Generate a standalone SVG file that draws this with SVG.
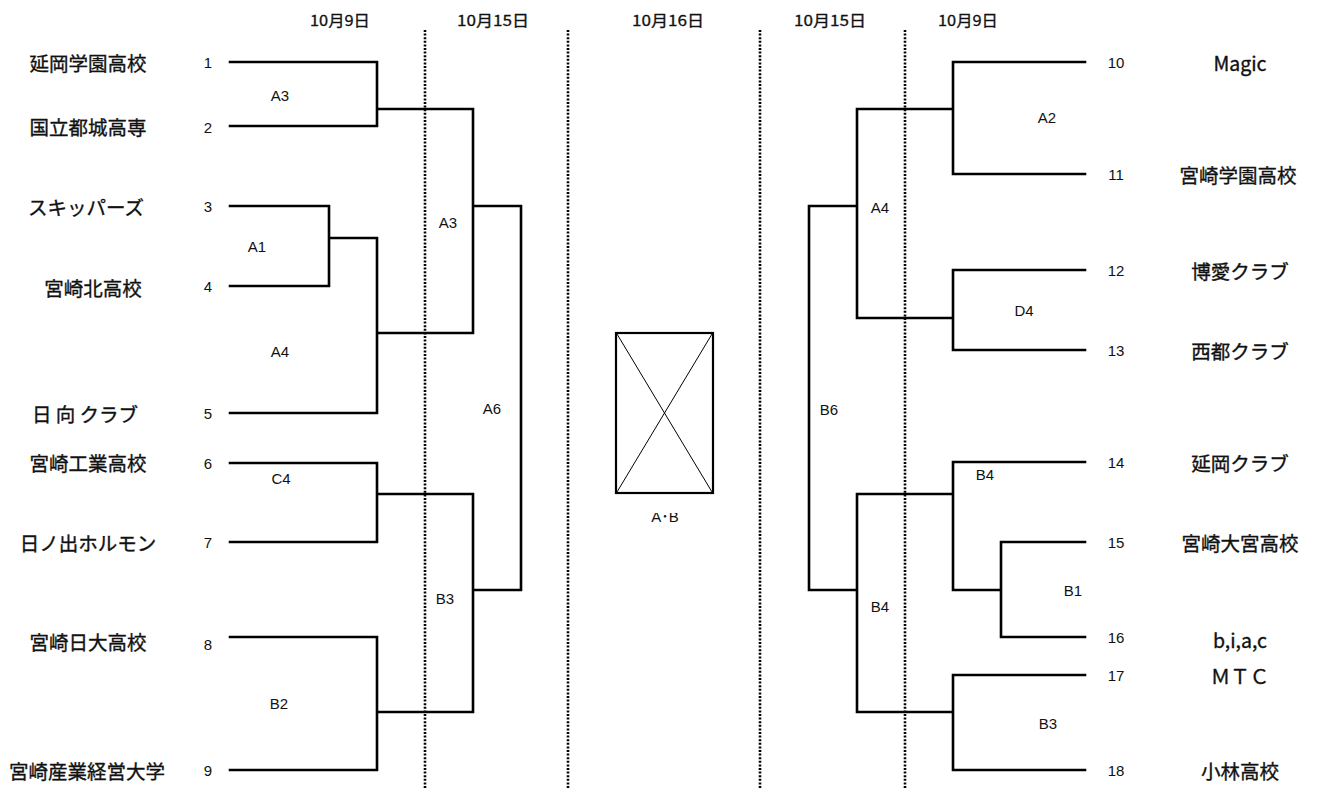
<svg xmlns="http://www.w3.org/2000/svg" width="1318" height="789" viewBox="0 0 1318 789">
<style>
.b{fill:none;stroke:#000;stroke-width:2.6;stroke-linecap:square}
.d{fill:none;stroke:#000;stroke-width:2.6;stroke-dasharray:2,1.6}
.name{font-family:"Noto Sans CJK JP","Liberation Sans",sans-serif;font-size:19.5px;font-weight:400;fill:#111;stroke:#111;stroke-width:0.35;text-anchor:middle;dominant-baseline:central}
.num{font-family:"Liberation Sans","Noto Sans CJK JP",sans-serif;font-size:15px;fill:#111;text-anchor:middle;dominant-baseline:central}
.lab{font-family:"Liberation Sans","Noto Sans CJK JP",sans-serif;font-size:15px;fill:#111;text-anchor:middle;dominant-baseline:central}
.hd{font-family:"Noto Sans CJK JP","Liberation Sans",sans-serif;font-size:15px;fill:#111;stroke:#111;stroke-width:0.3;text-anchor:middle;dominant-baseline:central}
</style>
<defs><clipPath id="cl"><rect x="600" y="513" width="130" height="20"/></clipPath></defs>
<rect width="1318" height="789" fill="#fff"/>
<g id="headers">
<text class="hd" x="340" y="19" textLength="60" lengthAdjust="spacingAndGlyphs">10月9日</text>
<text class="hd" x="493" y="19" textLength="72" lengthAdjust="spacingAndGlyphs">10月15日</text>
<text class="hd" x="668" y="19" textLength="72" lengthAdjust="spacingAndGlyphs">10月16日</text>
<text class="hd" x="830" y="19" textLength="72" lengthAdjust="spacingAndGlyphs">10月15日</text>
<text class="hd" x="968" y="19" textLength="60" lengthAdjust="spacingAndGlyphs">10月9日</text>
</g>
<g id="dividers">
<line class="d" x1="425" y1="30" x2="425" y2="789"/>
<line class="d" x1="568" y1="30" x2="568" y2="789"/>
<line class="d" x1="760" y1="30" x2="760" y2="789"/>
<line class="d" x1="905" y1="30" x2="905" y2="789"/>
</g>
<g id="connectors">
<path class="b" d="M230,62H377V126H230M377,109H473V333H377M230,206H329V286H230M329,238H377V413H230M473,206H521V590H473M230,463H377V542H230M377,494H473V712H377M230,637H377V770H230"/>
<path class="b" d="M1085,62H953V174H1085M953,109H857V318H953M1085,270H953V350H1085M857,206H809V590H857M1085,462H953V590H1001M857,494H953M1085,542H1001V637H1085M857,494V712H953M1085,675H953V770H1085"/>
</g>
<g id="left-teams">
<g id="t1"><text class="name" x="88" y="62">延岡学園高校</text><text class="num" x="208" y="62">1</text></g>
<g id="t2"><text class="name" x="88" y="126">国立都城高専</text><text class="num" x="208" y="127">2</text></g>
<g id="t3"><text class="name" x="86" y="206">スキッパーズ</text><text class="num" x="208" y="206">3</text></g>
<g id="t4"><text class="name" x="93" y="287">宮崎北高校</text><text class="num" x="208" y="286">4</text></g>
<g id="t5"><text class="name" x="85" y="413">日 向 クラブ</text><text class="num" x="208" y="413">5</text></g>
<g id="t6"><text class="name" x="88" y="462">宮崎工業高校</text><text class="num" x="208" y="463">6</text></g>
<g id="t7"><text class="name" x="88" y="542">日ノ出ホルモン</text><text class="num" x="208" y="542">7</text></g>
<g id="t8"><text class="name" x="88" y="641">宮崎日大高校</text><text class="num" x="208" y="644">8</text></g>
<g id="t9"><text class="name" x="87" y="770">宮崎産業経営大学</text><text class="num" x="208" y="770">9</text></g>
</g>
<g id="right-teams">
<g id="t10"><text class="num" x="1116" y="62">10</text><text class="name" x="1240" y="62">Magic</text></g>
<g id="t11"><text class="num" x="1116" y="174">11</text><text class="name" x="1238" y="174">宮崎学園高校</text></g>
<g id="t12"><text class="num" x="1116" y="270">12</text><text class="name" x="1240" y="270">博愛クラブ</text></g>
<g id="t13"><text class="num" x="1116" y="350">13</text><text class="name" x="1240" y="350">西都クラブ</text></g>
<g id="t14"><text class="num" x="1116" y="462">14</text><text class="name" x="1240" y="462">延岡クラブ</text></g>
<g id="t15"><text class="num" x="1116" y="542">15</text><text class="name" x="1240" y="542">宮崎大宮高校</text></g>
<g id="t16"><text class="num" x="1116" y="637">16</text><text class="name" x="1240" y="639">b,i,a,c</text></g>
<g id="t17"><text class="num" x="1116" y="675">17</text><text class="name" x="1240" y="675">ＭＴＣ</text></g>
<g id="t18"><text class="num" x="1116" y="770">18</text><text class="name" x="1240" y="770">小林高校</text></g>
</g>
<g id="match-labels">
<text class="lab" x="280" y="95">A3</text>
<text class="lab" x="257" y="246">A1</text>
<text class="lab" x="448" y="222">A3</text>
<text class="lab" x="280" y="351">A4</text>
<text class="lab" x="492" y="408">A6</text>
<text class="lab" x="281" y="478">C4</text>
<text class="lab" x="445" y="598">B3</text>
<text class="lab" x="279" y="703">B2</text>
<text class="lab" x="1047" y="117">A2</text>
<text class="lab" x="880" y="207">A4</text>
<text class="lab" x="1024" y="310">D4</text>
<text class="lab" x="829" y="409">B6</text>
<text class="lab" x="985" y="474">B4</text>
<text class="lab" x="1073" y="590">B1</text>
<text class="lab" x="880" y="606">B4</text>
<text class="lab" x="1048" y="723">B3</text>
</g>
<g id="final">
<rect x="616" y="333" width="97" height="160" fill="none" stroke="#000" stroke-width="2.2"/>
<path d="M617,334L712,492M712,334L617,492" stroke="#000" stroke-width="1" fill="none"/>
<text class="lab" x="665" y="516" font-size="13" clip-path="url(#cl)">A･B</text>
</g>
</svg>
